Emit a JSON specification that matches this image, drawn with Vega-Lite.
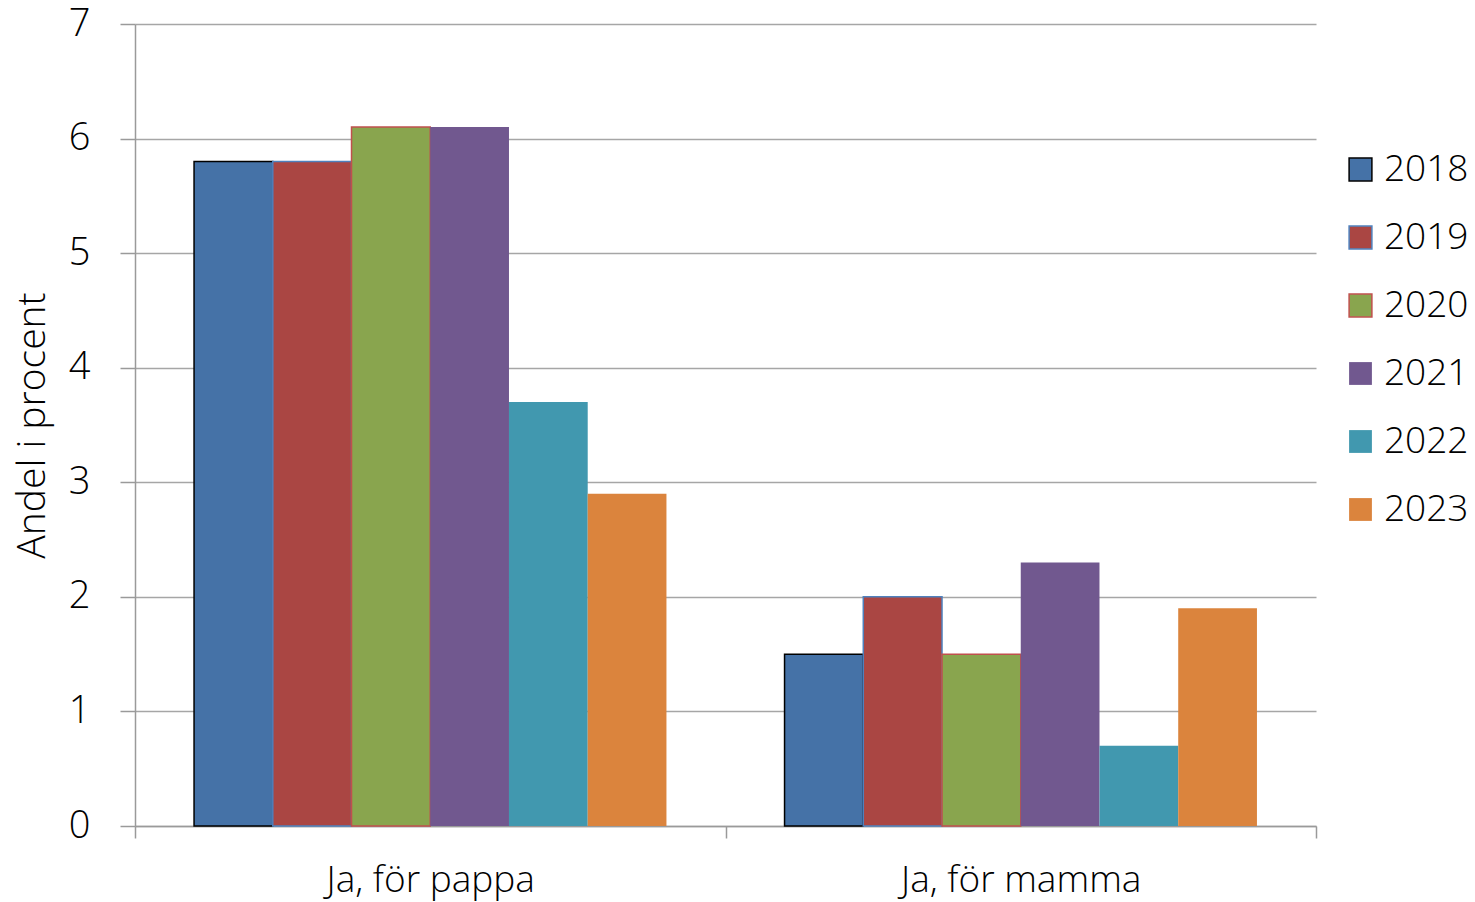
{
  "$schema": "https://vega.github.io/schema/vega-lite/v6.json",
  "width": 1181,
  "height": 802,
  "autosize": {"type": "none"},
  "padding": {"left": 135, "top": 24, "right": 159, "bottom": 76},
  "background": "white",
  "config": {
    "font": "Open Sans",
    "view": {"stroke": null}
  },
  "data": {
    "values": [
      {"svar": "Ja, för pappa", "year": "2018", "andel": 5.8},
      {"svar": "Ja, för pappa", "year": "2019", "andel": 5.8},
      {"svar": "Ja, för pappa", "year": "2020", "andel": 6.1},
      {"svar": "Ja, för pappa", "year": "2021", "andel": 6.1},
      {"svar": "Ja, för pappa", "year": "2022", "andel": 3.7},
      {"svar": "Ja, för pappa", "year": "2023", "andel": 2.9},
      {"svar": "Ja, för mamma", "year": "2018", "andel": 1.5},
      {"svar": "Ja, för mamma", "year": "2019", "andel": 2.0},
      {"svar": "Ja, för mamma", "year": "2020", "andel": 1.5},
      {"svar": "Ja, för mamma", "year": "2021", "andel": 2.3},
      {"svar": "Ja, för mamma", "year": "2022", "andel": 0.7},
      {"svar": "Ja, för mamma", "year": "2023", "andel": 1.9}
    ]
  },
  "mark": {"type": "bar", "strokeWidth": 1.5},
  "encoding": {
    "x": {
      "field": "svar",
      "type": "nominal",
      "sort": ["Ja, för pappa", "Ja, för mamma"],
      "scale": {"paddingInner": 0, "paddingOuter": 0},
      "axis": {
        "title": null,
        "labelAngle": 0,
        "labelFontSize": 37,
        "labelFontWeight": 300,
        "labelColor": "#000000",
        "labelPadding": 24,
        "labelLimit": 0,
        "tickBand": "extent",
        "tickSize": 12,
        "tickColor": "#9a9a9a",
        "tickWidth": 1.5,
        "domainColor": "#9a9a9a",
        "domainWidth": 1.5,
        "grid": false
      }
    },
    "xOffset": {
      "field": "year",
      "type": "nominal",
      "scale": {"paddingInner": 0, "paddingOuter": 0.75}
    },
    "y": {
      "field": "andel",
      "type": "quantitative",
      "scale": {"domain": [0, 7], "nice": false},
      "axis": {
        "title": "Andel i procent",
        "titleFontSize": 39,
        "titleFontWeight": 300,
        "titleColor": "#000000",
        "titlePadding": 16,
        "values": [0, 1, 2, 3, 4, 5, 6, 7],
        "labelFontSize": 38,
        "labelFontWeight": 300,
        "labelColor": "#000000",
        "labelPadding": 30,
        "tickSize": 15,
        "tickColor": "#9a9a9a",
        "tickWidth": 1.5,
        "domainColor": "#9a9a9a",
        "domainWidth": 1.5,
        "grid": true,
        "gridColor": "#a6a6a6",
        "gridWidth": 1.5
      }
    },
    "fill": {
      "field": "year",
      "type": "nominal",
      "scale": {
        "domain": ["2018", "2019", "2020", "2021", "2022", "2023"],
        "range": ["#4572A7", "#AA4643", "#89A54E", "#71588F", "#4198AF", "#DB843D"]
      },
      "legend": {
        "title": null,
        "orient": "none",
        "legendX": 1207,
        "legendY": 127,
        "symbolType": "square",
        "symbolSize": 520,
        "symbolStrokeWidth": 1.5,
        "labelFontSize": 37,
        "labelFontWeight": 300,
        "labelColor": "#000000",
        "labelOffset": 5,
        "labelLimit": 0,
        "rowPadding": 30,
        "symbolOpacity": 1
      }
    },
    "stroke": {
      "field": "year",
      "type": "nominal",
      "scale": {
        "domain": ["2018", "2019", "2020", "2021", "2022", "2023"],
        "range": ["#000000", "#4F81BD", "#C0504D", "transparent", "transparent", "transparent"]
      },
      "legend": null
    }
  }
}
